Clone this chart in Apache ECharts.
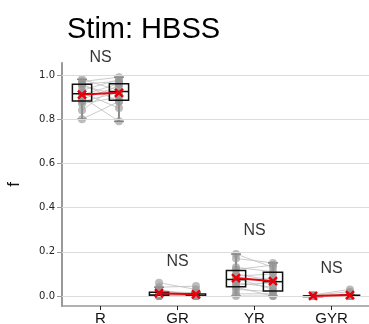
<!DOCTYPE html>
<html>
<head>
<meta charset="utf-8">
<script src="https://cdn.jsdelivr.net/npm/echarts@6/dist/echarts.min.js"></script>
<style>html,body{margin:0;padding:0;background:#fff;}#c{width:369px;height:324px;}</style>
</head>
<body>
<div id="c"></div>
<script>
const categories = ['R', 'GR', 'YR', 'GYR'];
const yTicks = [0, 0.2, 0.4, 0.6, 0.8, 1.0];

const rPre   = [0.98, 0.97, 0.96, 0.96, 0.95, 0.93, 0.92, 0.91, 0.90, 0.89, 0.88, 0.87, 0.84, 0.80];
const rPost  = [0.93, 0.99, 0.88, 0.97, 0.91, 0.98, 0.85, 0.96, 0.79, 0.95, 0.92, 0.90, 0.96, 0.88];
const grPre  = [0.06, 0.04, 0.03, 0.02, 0.01, 0.01, 0.005, 0.005, 0.0, 0.0, 0.0, 0.0, 0.0, 0.0];
const grPost = [0.03, 0.045, 0.0, 0.015, 0.005, 0.0, 0.01, 0.0, 0.005, 0.0, 0.0, 0.0, 0.0, 0.0];
const yrPre  = [0.19, 0.17, 0.13, 0.12, 0.10, 0.09, 0.08, 0.07, 0.06, 0.05, 0.04, 0.03, 0.01, 0.0];
const yrPost = [0.13, 0.15, 0.11, 0.14, 0.07, 0.10, 0.03, 0.08, 0.04, 0.06, 0.0, 0.02, 0.01, 0.0];
const gyrPre = [0.005, 0.003, 0.002, 0.0, 0.0, 0.0, 0.0, 0.0, 0.0, 0.0, 0.0, 0.0, 0.0, 0.0];
const gyrPost= [0.03, 0.02, 0.01, 0.005, 0.0, 0.0, 0.0, 0.0, 0.0, 0.0, 0.0, 0.0, 0.0, 0.0];
const sigLabels = ['NS', 'NS', 'NS', 'NS'];
const sigLabelY = [1.08, 0.158, 0.296, 0.122];

const groups = [[rPre, rPost], [grPre, grPost], [yrPre, yrPost], [gyrPre, gyrPost]];
const OFF = 0.24, BOX_W = 0.25;

function quant(sorted, p) {
  const pos = (sorted.length - 1) * p, lo = Math.floor(pos), hi = Math.ceil(pos);
  return sorted[lo] + (sorted[hi] - sorted[lo]) * (pos - lo);
}
function stats(arr) {
  const s = arr.slice().sort((a, b) => a - b);
  const q1 = quant(s, 0.25), md = quant(s, 0.5), q3 = quant(s, 0.75);
  const iqr = q3 - q1;
  const lo = s.filter(v => v >= q1 - 1.5 * iqr)[0];
  const hiArr = s.filter(v => v <= q3 + 1.5 * iqr);
  const hi = hiArr[hiArr.length - 1];
  return [lo, q1, md, q3, hi];
}
const mean = a => a.reduce((x, y) => x + y, 0) / a.length;

const pairLines = [], points = [], boxes = [], meanSeries = [];
groups.forEach((g, ci) => {
  const xl = ci - OFF, xr = ci + OFF;
  g[0].forEach((v, i) => {
    pairLines.push([xl, v, xr, g[1][i]]);
    points.push([xl, v]);
    points.push([xr, g[1][i]]);
  });
  boxes.push([xl].concat(stats(g[0])));
  boxes.push([xr].concat(stats(g[1])));
  meanSeries.push({
    type: 'line', z: 10,
    data: [[xl, mean(g[0])], [xr, mean(g[1])]],
    lineStyle: { color: '#e8000b', width: 2 },
    symbol: 'path://M0,0L10,10M10,0L0,10', symbolSize: 8,
    itemStyle: { color: 'none', borderColor: '#e8000b', borderWidth: 2.5 },
    animation: false
  });
});

const chart = echarts.init(document.getElementById('c'), null, { renderer: 'canvas' });
chart.setOption({
  animation: false,
  title: {
    text: 'Stim: HBSS', left: 62, top: 10,
    textStyle: { fontFamily: 'Liberation Sans', fontSize: 29, fontWeight: 'normal', color: '#000' }
  },
  grid: { left: 62, right: -1, top: 63, bottom: 18, containLabel: false, outerBoundsMode: 'none' },
  xAxis: {
    type: 'value', min: -0.5, max: 3.5,
    axisLine: { show: true, onZero: false, lineStyle: { color: '#999', width: 1.5 } },
    axisTick: { show: true, customValues: [0, 1, 2, 3], length: 4, lineStyle: { color: '#222' } },
    axisLabel: {
      customValues: [0, 1, 2, 3], margin: 5,
      formatter: v => categories[Math.round(v)],
      fontFamily: 'Liberation Sans', fontSize: 15, color: '#111'
    },
    splitLine: { show: false }
  },
  yAxis: {
    type: 'value', min: -0.045, max: 1.054,
    name: 'f', nameLocation: 'middle', nameGap: 39, nameRotate: 90,
    nameTextStyle: { fontFamily: 'Liberation Sans', fontSize: 17, color: '#111' },
    axisLine: { show: true, onZero: false, lineStyle: { color: '#999', width: 2 } },
    axisTick: { show: true, customValues: yTicks, length: 5, lineStyle: { color: '#999' } },
    axisLabel: {
      customValues: yTicks, margin: 7,
      formatter: v => v.toFixed(1),
      fontFamily: 'DejaVu Sans', fontSize: 10, color: '#222'
    },
    splitLine: { show: false }
  },
  series: [
    {
      type: 'line', z: 0, data: [], silent: true,
      markLine: {
        silent: true, symbol: 'none', label: { show: false }, animation: false,
        lineStyle: { color: '#dcdcdc', width: 1, type: 'solid' },
        data: yTicks.map(v => ({ yAxis: v }))
      },
      animation: false
    },
    {
      type: 'custom', z: 1, data: pairLines,
      renderItem: (params, api) => {
        const a = api.coord([api.value(0), api.value(1)]);
        const b = api.coord([api.value(2), api.value(3)]);
        return { type: 'line', shape: { x1: a[0], y1: a[1], x2: b[0], y2: b[1] },
          style: { stroke: 'rgba(190,190,190,0.8)', lineWidth: 1 } };
      },
      animation: false
    },
    {
      type: 'custom', z: 2, data: boxes,
      renderItem: (params, api) => {
        const x = api.value(0);
        const lo = api.coord([x, api.value(1)]), q1 = api.coord([x, api.value(2)]),
              q3 = api.coord([x, api.value(4)]), hi = api.coord([x, api.value(5)]);
        const w = api.size([BOX_W, 0])[0], cw = w * 0.5, cx = lo[0];
        const ws = { stroke: '#666', lineWidth: 1.5 };
        return { type: 'group', children: [
          { type: 'line', shape: { x1: cx, y1: q3[1], x2: cx, y2: hi[1] }, style: ws },
          { type: 'line', shape: { x1: cx, y1: q1[1], x2: cx, y2: lo[1] }, style: ws },
          { type: 'line', shape: { x1: cx - cw / 2, y1: hi[1], x2: cx + cw / 2, y2: hi[1] }, style: ws },
          { type: 'line', shape: { x1: cx - cw / 2, y1: lo[1], x2: cx + cw / 2, y2: lo[1] }, style: ws }
        ] };
      },
      animation: false
    },
    {
      type: 'scatter', z: 3, data: points, symbolSize: 8,
      itemStyle: { color: 'rgba(150,150,150,0.8)' }, animation: false
    },
    {
      type: 'custom', z: 4, data: boxes,
      renderItem: (params, api) => {
        const x = api.value(0);
        const q1 = api.coord([x, api.value(2)]), md = api.coord([x, api.value(3)]),
              q3 = api.coord([x, api.value(4)]);
        const w = api.size([BOX_W, 0])[0], cx = q1[0];
        return { type: 'group', children: [
          { type: 'rect', shape: { x: cx - w / 2, y: q3[1], width: w, height: Math.max(q1[1] - q3[1], 0.5) },
            style: { fill: 'none', stroke: '#111', lineWidth: 1.5 } },
          { type: 'line', shape: { x1: cx - w / 2, y1: md[1], x2: cx + w / 2, y2: md[1] },
            style: { stroke: '#111', lineWidth: 1.5 } }
        ] };
      },
      animation: false
    },
    ...meanSeries,
    {
      type: 'scatter', z: 11, clip: false, symbolSize: 0,
      data: sigLabels.map((t, i) => ({ value: [i, sigLabelY[i]], name: t })),
      label: { show: true, position: 'inside', formatter: p => p.name,
        fontFamily: 'Liberation Sans', fontSize: 16, color: '#000' },
      animation: false
    }
  ]
});
</script>
</body>
</html>
